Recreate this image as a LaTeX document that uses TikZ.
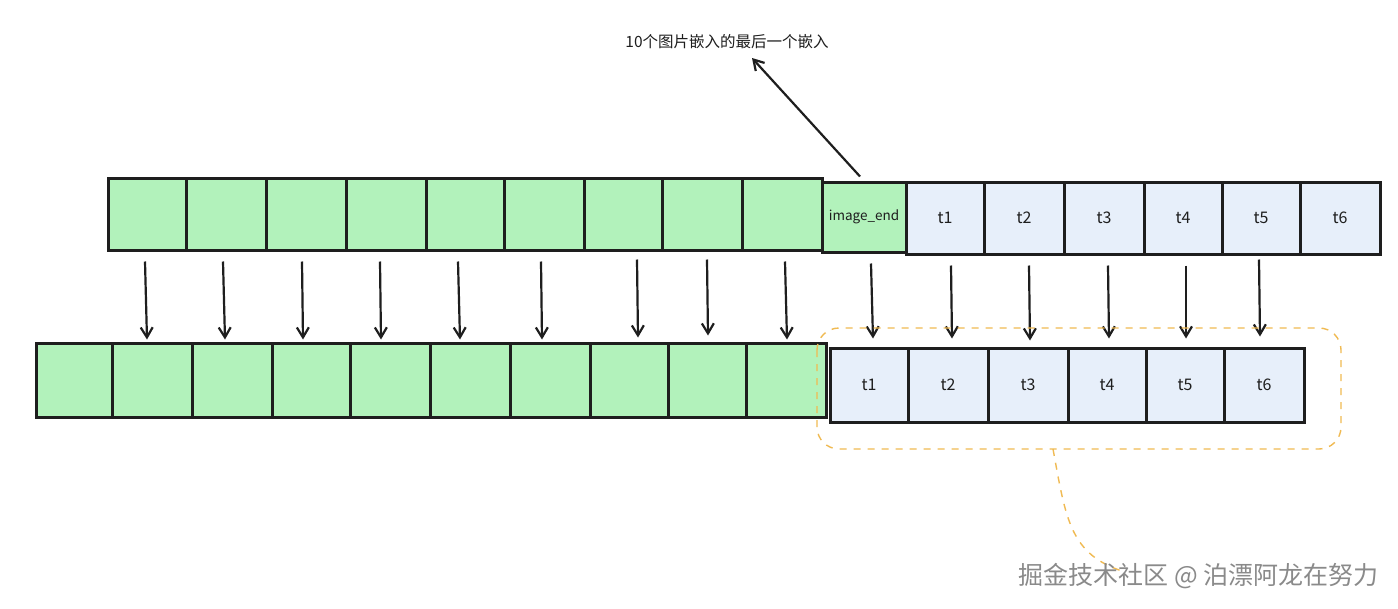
\documentclass[tikz,border=0pt]{standalone}
\usepackage{fontspec}
\setmainfont{Noto Sans CJK SC}
\newfontfamily\cjk{Noto Sans CJK SC}
\usetikzlibrary{arrows.meta,calc}
\definecolor{gfill}{HTML}{B2F2BB}
\definecolor{bfill}{HTML}{E7EFFA}
\definecolor{ink}{HTML}{1E1E1E}
\definecolor{orng}{HTML}{F0BA52}
\definecolor{wmgray}{HTML}{8A8A8A}
\tikzset{
  cell/.style={draw=ink, line width=3pt, inner sep=0pt, minimum height=72pt, font=\cjk\fontsize{16}{16}\selectfont, text=ink},
  gcell/.style={cell, fill=gfill},
  bcell/.style={cell, fill=bfill},
  arr/.style={draw=ink, line width=2.2pt, -{Straight Barb[length=10pt,width=12pt,line width=2.2pt]}},
  orngdash/.style={draw=orng, line width=1.4pt, dash pattern=on 7pt off 7pt},
}
\begin{document}
\begin{tikzpicture}[x=1pt,y=-1pt]
\fill[white] (0,0) rectangle (1398,608);
\useasboundingbox (0,0) rectangle (1398,608);

% top row
\node[gcell, minimum width=78pt] (a1) at (147,214) {};
\node[gcell, minimum width=80pt] (a2) at (226,214) {};
\node[gcell, minimum width=80pt] (a3) at (306,214) {};
\node[gcell, minimum width=80pt] (a4) at (386,214) {};
\node[gcell, minimum width=78pt] (a5) at (465,214) {};
\node[gcell, minimum width=80pt] (a6) at (544,214) {};
\node[gcell, minimum width=78pt] (a7) at (623,214) {};
\node[gcell, minimum width=80pt] (a8) at (702,214) {};
\node[gcell, minimum width=80pt] (a9) at (782,214) {};
\node[gcell, minimum width=84pt, minimum height=70pt] (ae) at (864,217) {\fontsize{13.5}{13.5}\selectfont image\_end};
\node[bcell, minimum width=78pt] (at1) at (945,218) {t1};
\node[bcell, minimum width=80pt] (at2) at (1024,218) {t2};
\node[bcell, minimum width=80pt] (at3) at (1104,218) {t3};
\node[bcell, minimum width=78pt] (at4) at (1183,218) {t4};
\node[bcell, minimum width=78pt] (at5) at (1261,218) {t5};
\node[bcell, minimum width=80pt] (at6) at (1340,218) {t6};

% bottom row
\node[gcell, minimum width=76pt, minimum height=74pt] (b1) at (74,380) {};
\node[gcell, minimum width=80pt, minimum height=74pt] (b2) at (152,380) {};
\node[gcell, minimum width=80pt, minimum height=74pt] (b3) at (232,380) {};
\node[gcell, minimum width=78pt, minimum height=74pt] (b4) at (311,380) {};
\node[gcell, minimum width=80pt, minimum height=74pt] (b5) at (390,380) {};
\node[gcell, minimum width=80pt, minimum height=74pt] (b6) at (470,380) {};
\node[gcell, minimum width=80pt, minimum height=74pt] (b7) at (550,380) {};
\node[gcell, minimum width=78pt, minimum height=74pt] (b8) at (629,380) {};
\node[gcell, minimum width=78pt, minimum height=74pt] (b9) at (707,380) {};
\node[gcell, minimum width=80pt, minimum height=74pt] (b10) at (786,380) {};
\node[bcell, minimum width=78pt, minimum height=74pt] (bt1) at (869,385) {t1};
\node[bcell, minimum width=80pt, minimum height=74pt] (bt2) at (948,385) {t2};
\node[bcell, minimum width=80pt, minimum height=74pt] (bt3) at (1028,385) {t3};
\node[bcell, minimum width=78pt, minimum height=74pt] (bt4) at (1107,385) {t4};
\node[bcell, minimum width=78pt, minimum height=74pt] (bt5) at (1185,385) {t5};
\node[bcell, minimum width=80pt, minimum height=74pt] (bt6) at (1264,385) {t6};

% vertical arrows
\draw[arr] ([xshift=-2pt,yshift=-10pt]a1.south) -- ([xshift=-5pt,yshift=2pt]b2.north);
\draw[arr] ([xshift=-3pt,yshift=-10pt]a2.south) -- ([xshift=-7pt,yshift=2pt]b3.north);
\draw[arr] ([xshift=-4pt,yshift=-10pt]a3.south) -- ([xshift=-8pt,yshift=2pt]b4.north);
\draw[arr] ([xshift=-6pt,yshift=-10pt]a4.south) -- ([xshift=-9pt,yshift=2pt]b5.north);
\draw[arr] ([xshift=-7pt,yshift=-10pt]a5.south) -- ([xshift=-10pt,yshift=2pt]b6.north);
\draw[arr] ([xshift=-3pt,yshift=-10pt]a6.south) -- ([xshift=-8pt,yshift=2pt]b7.north);
\draw[arr] ([xshift=14pt,yshift=-8pt]a7.south) -- ([xshift=9pt,yshift=4pt]b8.north);
\draw[arr] ([xshift=5pt,yshift=-8pt]a8.south) -- ([xshift=1pt,yshift=6pt]b9.north);
\draw[arr] ([xshift=3pt,yshift=-10pt]a9.south) -- ([xshift=1pt,yshift=2pt]b10.north);
\draw[arr] ([xshift=7pt,yshift=-10pt]ae.south) -- ([xshift=4pt,yshift=8pt]bt1.north);
\draw[arr] ([xshift=6pt,yshift=-10pt]at1.south) -- ([xshift=4pt,yshift=8pt]bt2.north);
\draw[arr] ([xshift=5pt,yshift=-10pt]at2.south) -- ([xshift=2pt,yshift=6pt]bt3.north);
\draw[arr] ([xshift=4pt,yshift=-10pt]at3.south) -- ([xshift=2pt,yshift=8pt]bt4.north);
\draw[arr] ([xshift=3pt,yshift=-10pt]at4.south) -- ([xshift=1pt,yshift=8pt]bt5.north);
\draw[arr] ([xshift=-2pt,yshift=-4pt]at5.south) -- ([xshift=-4pt,yshift=10pt]bt6.north);

% annotation
\node[font=\cjk\fontsize{15.5}{15.5}\selectfont, text=ink] (lbl) at (727,42) {10个图片嵌入的最后一个嵌入};
\coordinate (tip) at (752,58);
\draw[arr] ([xshift=-4pt,yshift=4pt]ae.north) -- (tip);

% dashed orange group
\draw[orngdash, rounded corners=22pt] (817,328) rectangle (1341,449);
\coordinate (curveend) at (1125,572);
\draw[orngdash] (1053,449) .. controls (1066,520) and (1070,555) .. (curveend);

% watermark
\node[font=\cjk\fontsize{25}{25}\selectfont, text=wmgray, anchor=east] (wm) at (1382,576) {掘金技术社区 @ 泊漂阿龙在努力};
\end{tikzpicture}
\end{document}
